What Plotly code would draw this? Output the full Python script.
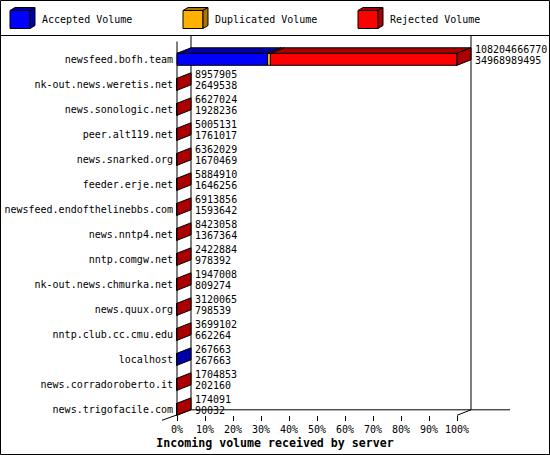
"""Incoming volume received by server - 3D style stacked bar chart (innreport look)."""

import plotly.graph_objects as go

# ---------------------------------------------------------------------------
# Data
# ---------------------------------------------------------------------------
servers = [
    "newsfeed.bofh.team",
    "nk-out.news.weretis.net",
    "news.sonologic.net",
    "peer.alt119.net",
    "news.snarked.org",
    "feeder.erje.net",
    "newsfeed.endofthelinebbs.com",
    "news.nntp4.net",
    "nntp.comgw.net",
    "nk-out.news.chmurka.net",
    "news.quux.org",
    "nntp.club.cc.cmu.edu",
    "localhost",
    "news.corradoroberto.it",
    "news.trigofacile.com",
]
total_volume = [
    108204666770, 8957905, 6627024, 5005131, 6362029, 5884910, 6913856,
    8423058, 2422884, 1947008, 3120065, 3699102, 267663, 1704853, 174091,
]
accepted_volume = [
    34968989495, 2649538, 1928236, 1761017, 1670469, 1646256, 1593642,
    1367364, 978392, 809274, 798539, 662264, 267663, 202160, 90032,
]
# duplicated volume is not printed - estimated from the thin orange slice
duplicated_volume = [
    1150000000, 0, 0, 0, 0, 0, 0, 0, 0, 0, 0, 0, 0, 0, 0,
]
rejected_volume = [
    t - a - d for t, a, d in zip(total_volume, accepted_volume, duplicated_volume)
]

series_names = ["Accepted Volume", "Duplicated Volume", "Rejected Volume"]
front_colors = ["#0000ff", "#ffb000", "#ff0000"]
shade_colors = ["#0000aa", "#aa7500", "#aa0000"]

tick_values = [0, 10, 20, 30, 40, 50, 60, 70, 80, 90, 100]
tick_labels = ["0%", "10%", "20%", "30%", "40%", "50%", "60%", "70%", "80%", "90%", "100%"]

x_title = "Incoming volume received by server"

# ---------------------------------------------------------------------------
# Geometry (pixels of the 550x455 canvas)
# ---------------------------------------------------------------------------
W, H = 550, 455
ORIGIN_PX = 177        # where 0% sits
PX_PER_PCT = 2.8       # 100% -> 457 px
ROW0_PX = 59.3         # centre of the first bar
PX_PER_ROW = 25
DEPTH_PX = (14, 5.5)   # 3D offset: right / up
BAR_PX = 12

FONT = "DejaVu Sans Mono"


def to_x(px):
    return (px - ORIGIN_PX) / PX_PER_PCT


def to_y(py):
    return (py - ROW0_PX) / PX_PER_ROW


def pap_x(px):
    return px / W


def pap_y(py):
    return 1 - py / H


DX = DEPTH_PX[0] / PX_PER_PCT
DY = -DEPTH_PX[1] / PX_PER_ROW
HALF = BAR_PX / PX_PER_ROW / 2

rows = list(range(len(servers)))
vmax = max(total_volume)
series = [accepted_volume, duplicated_volume, rejected_volume]

fig = go.Figure()

# front faces + top faces
base = [0.0] * len(rows)
last_series = [0] * len(rows)
for k, values in enumerate(series):
    pct = [v / vmax * 100 for v in values]
    fig.add_bar(
        y=rows, x=pct, base=base, orientation="h", width=2 * HALF,
        marker=dict(color=front_colors[k], line=dict(color="black", width=1)),
        name=series_names[k], showlegend=False,
    )
    xs, ys = [], []
    for r in rows:
        if values[r] > 0:
            last_series[r] = k
        if pct[r] > 0.05:
            b, e = base[r], base[r] + pct[r]
            top = r - HALF
            xs += [b, e, e + DX, b + DX, b, None]
            ys += [top, top, top + DY, top + DY, top, None]
    if xs:
        fig.add_scatter(
            x=xs, y=ys, mode="lines", fill="toself", fillcolor=shade_colors[k],
            line=dict(color="black", width=1), showlegend=False, hoverinfo="skip",
        )
    base = [b + p for b, p in zip(base, pct)]

# side faces, coloured like the last segment of each bar
for k in range(len(series)):
    xs, ys = [], []
    for r in rows:
        if last_series[r] != k:
            continue
        e = base[r]
        top, bot = r - HALF, r + HALF
        xs += [e, e + DX, e + DX, e, e, None]
        ys += [top, top + DY, bot + DY, bot, top, None]
    if xs:
        fig.add_scatter(
            x=xs, y=ys, mode="lines", fill="toself", fillcolor=shade_colors[k],
            line=dict(color="black", width=1), showlegend=False, hoverinfo="skip",
        )

# value labels: total on top, accepted below
text_x = [b + DX + 4 / PX_PER_PCT for b in base]
fig.add_scatter(
    x=text_x, y=[r - 0.372 for r in rows], mode="text",
    text=[str(v) for v in total_volume], textposition="middle right",
    textfont=dict(family=FONT, size=10, color="black"), showlegend=False,
)
fig.add_scatter(
    x=text_x, y=[r + 0.068 for r in rows], mode="text",
    text=[str(v) for v in accepted_volume], textposition="middle right",
    textfont=dict(family=FONT, size=10, color="black"), showlegend=False,
)

# ---------------------------------------------------------------------------
# Frame: walls, floor, legend box
# ---------------------------------------------------------------------------
def pline(x0, y0, x1, y1, layer="below"):
    fig.add_shape(
        type="line", xref="paper", yref="paper",
        x0=pap_x(x0), y0=pap_y(y0), x1=pap_x(x1), y1=pap_y(y1),
        line=dict(color="black", width=1), layer=layer,
    )


floor_front = ROW0_PX + (len(rows) - 1) * PX_PER_ROW + BAR_PX / 2
floor_back = floor_front - DEPTH_PX[1]
right_front = ORIGIN_PX + 100 * PX_PER_PCT
pline(ORIGIN_PX, 36 + DEPTH_PX[1], ORIGIN_PX, floor_front)
pline(ORIGIN_PX + DEPTH_PX[0], 36, ORIGIN_PX + DEPTH_PX[0], floor_back)
pline(right_front + DEPTH_PX[0], 36, right_front + DEPTH_PX[0], floor_back)
pline(ORIGIN_PX + DEPTH_PX[0], floor_back, 510, floor_back)
pline(162, floor_front + 5, ORIGIN_PX + DEPTH_PX[0], floor_back)
pline(right_front, floor_front, right_front + DEPTH_PX[0], floor_back)
pline(0, 35.5, W, 35.5, layer="above")

fig.add_shape(
    type="rect", xref="paper", yref="paper",
    x0=pap_x(0.5), y0=pap_y(0.5), x1=pap_x(W - 0.5), y1=pap_y(H - 0.5),
    line=dict(color="black", width=1), layer="above",
)


def ppath(points):
    return "M " + " L ".join(f"{pap_x(x)},{pap_y(y)}" for x, y in points) + " Z"


legend_x = [10, 183, 358]
for k, lx in enumerate(legend_x):
    y0, y1, d, u = 10.5, 28.5, 5, 3
    faces = [
        ([(lx, y0), (lx + 20, y0), (lx + 20, y1), (lx, y1)], front_colors[k]),
        ([(lx, y0), (lx + d, y0 - u), (lx + 20 + d, y0 - u), (lx + 20, y0)], shade_colors[k]),
        ([(lx + 20, y0), (lx + 20 + d, y0 - u), (lx + 20 + d, y1 - u), (lx + 20, y1)], shade_colors[k]),
    ]
    for pts, col in faces:
        fig.add_shape(
            type="path", xref="paper", yref="paper", path=ppath(pts),
            fillcolor=col, line=dict(color="black", width=1), layer="above",
        )
    fig.add_annotation(
        xref="paper", yref="paper", x=pap_x(lx + 30), y=pap_y(20),
        xanchor="left", yanchor="middle", showarrow=False,
        text=series_names[k], font=dict(family=FONT, size=10, color="black"),
    )

# ---------------------------------------------------------------------------
# Axes and layout
# ---------------------------------------------------------------------------
fig.update_layout(
    template="none",
    width=W, height=H,
    margin=dict(l=0, r=0, t=0, b=0),
    paper_bgcolor="white", plot_bgcolor="white",
    barmode="overlay",
    showlegend=False,
    font=dict(family=FONT, size=10, color="black"),
    xaxis=dict(
        range=[to_x(0), to_x(W)], anchor="free", position=pap_y(floor_front),
        tickvals=tick_values, ticktext=tick_labels,
        ticks="outside", ticklen=5, tickwidth=1, tickcolor="black",
        showgrid=False, zeroline=False, showline=False, automargin=False,
        tickfont=dict(family=FONT, size=10, color="black"),
        title=dict(text=x_title, standoff=4,
                   font=dict(family=FONT, size=11.6, color="black", weight="bold")),
    ),
    yaxis=dict(
        range=[to_y(H), to_y(0)], anchor="free", position=pap_x(ORIGIN_PX),
        tickvals=rows, ticktext=servers, ticks="",
        showgrid=False, zeroline=False, showline=False, automargin=False,
        ticklabelstandoff=4,
        tickfont=dict(family=FONT, size=10, color="black"),
    ),
)

# the page's default 8px body margin would push the 550x455 figure off-canvas
fig.write_html(
    "out.html",
    config={"displayModeBar": False},
    post_script="document.body.style.margin = '0';",
)
